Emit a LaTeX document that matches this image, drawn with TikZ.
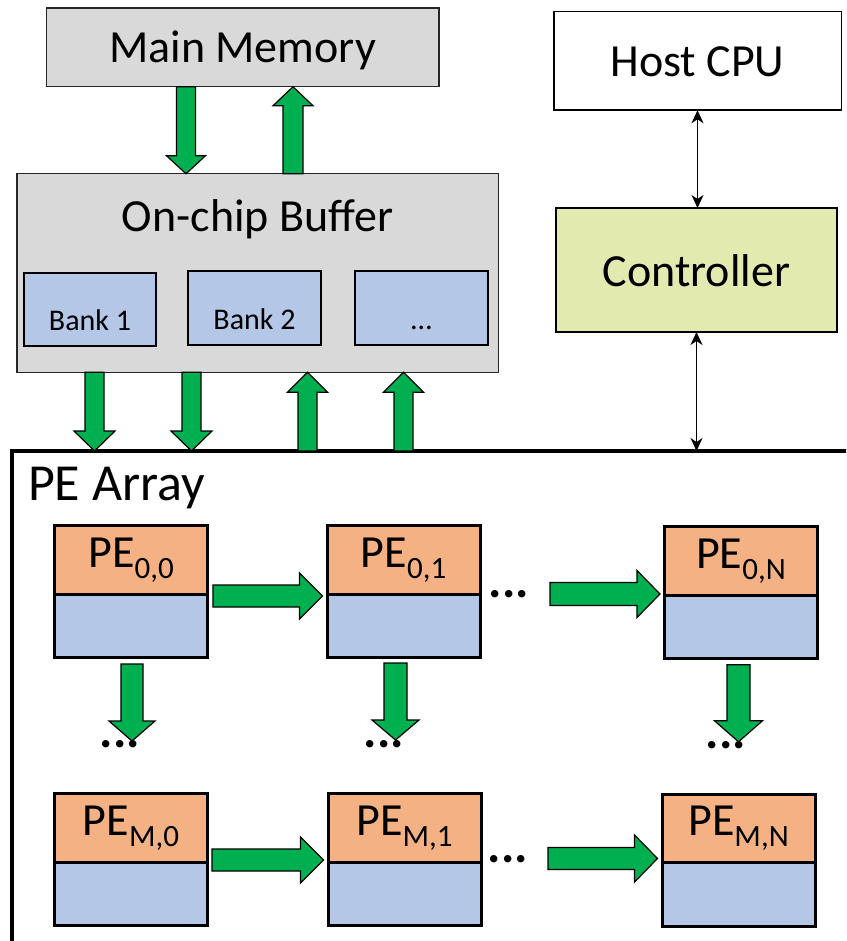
\documentclass[tikz,border=0pt]{standalone}
\usepackage{fontspec}
\setmainfont{Carlito}
\usetikzlibrary{calc,arrows.meta}

\definecolor{memgray}{RGB}{217,217,217}
\definecolor{bankblue}{RGB}{180,199,231}
\definecolor{peorange}{RGB}{244,177,131}
\definecolor{ctrlgreen}{RGB}{227,234,175}
\definecolor{flowgreen}{RGB}{0,176,80}

\newcommand\fsz[1]{\fontsize{#1}{#1}\selectfont}

% vertical block arrow: from, to, shaft half width, head half width, head length
\newcommand\flowV[5]{%
  \draw[flow] let \p1=(#1), \p2=(#2), \n1={ifthenelse(\y2>\y1,1,-1)},
      \n2={\y2-(\n1)*#5} in
    ({\x1-#3},\y1) -- ({\x1-#3},\n2) -- ({\x1-#4},\n2) -- (\x1,\y2)
    -- ({\x1+#4},\n2) -- ({\x1+#3},\n2) -- ({\x1+#3},\y1) -- cycle;}
% horizontal block arrow: from, to, shaft half width, head half width, head length
\newcommand\flowH[5]{%
  \draw[flow] let \p1=(#1), \p2=(#2), \n1={ifthenelse(\x2>\x1,1,-1)},
      \n2={\x2-(\n1)*#5} in
    (\x1,{\y1-#3}) -- (\n2,{\y1-#3}) -- (\n2,{\y1-#4}) -- (\x2,\y1)
    -- (\n2,{\y1+#4}) -- (\n2,{\y1+#3}) -- (\x1,{\y1+#3}) -- cycle;}

% processing element: name, x, y of the upper half, index
\newcommand\penode[4]{%
  \node[petop] (#1) at (#2,#3) {PE\raisebox{-11pt}{\fsz{31}#4}};
  \node[pebot, anchor=north] (#1b) at (#1.south) {};}

\tikzset{
  every node/.style={inner sep=0pt, outer sep=0pt},
  flow/.style={fill=flowgreen, draw=black, line width=1.2pt, line join=miter},
  memnode/.style={draw=black!85, fill=memgray, line width=1.5pt, font=\fsz{46},
    text height=31pt, text depth=0pt},
  banknode/.style={draw, fill=bankblue, line width=2pt, font=\fsz{30},
    text height=42pt, text depth=0pt},
  hostnode/.style={draw, fill=white, line width=1.5pt, font=\fsz{46},
    text height=32pt, text depth=0pt},
  ctrlnode/.style={draw, fill=ctrlgreen, line width=2pt, font=\fsz{46},
    text height=32pt, text depth=0pt},
  petop/.style={draw, fill=peorange, line width=3pt, minimum width=153pt,
    minimum height=68.5pt, font=\fsz{46}, text height=20pt, text depth=5.5pt},
  pebot/.style={draw, fill=bankblue, line width=3pt, minimum width=153pt,
    minimum height=63.5pt},
  arrayframe/.style={draw, line width=3.5pt},
  ctl/.style={line width=1.7pt,
    {Stealth[length=13pt,width=12pt,inset=4pt]}-{Stealth[length=13pt,width=12pt,inset=4pt]}},
  dotrow/.style={font=\bfseries\fsz{50}, anchor=base},
}

\begin{document}
\begin{tikzpicture}[x=1pt, y=-1pt]
\useasboundingbox[fill=white] (0,0) rectangle (846,941);
\clip (0,0) rectangle (846,941);

% memory hierarchy
\node[memnode, minimum width=392.5pt, minimum height=78.5pt] (mm) at (242.5,47.5) {Main Memory};
\node[memnode, minimum width=481.5pt, minimum height=198.5pt] (buf) at (257.5,273) {};
\node[anchor=base, font=\fsz{46}] (buflabel) at (257.5,232) {On-chip Buffer};
\node[banknode, minimum width=132pt, minimum height=73pt] (bank1) at (90,309.5) {Bank 1};
\node[banknode, minimum width=133pt, minimum height=74pt] (bank2) at (254.5,308) {Bank 2};
\node[banknode, minimum width=133pt, minimum height=74pt] (bank3) at (421.5,308) {…};

% host side
\node[hostnode, minimum width=287.5pt, minimum height=98.5pt] (host) at (697.5,61) {Host CPU};
\node[ctrlnode, minimum width=281pt, minimum height=124pt] (ctrl) at (696.5,270) {Controller};

% PE array frame (runs past the page edges)
\node[arrayframe, anchor=north west, minimum width=1000pt, minimum height=600pt] (pea) at (12,451) {};
\node[anchor=base west, font=\fsz{52}] (pealabel) at (28,500) {PE Array};

% memory <-> buffer
\coordinate (m1) at ($(mm.south west)+(139.75,0)$);
\coordinate (m2) at ($(mm.south west)+(246.75,0)$);
\flowV{m1}{m1 |- buf.north}{9.5pt}{19.5pt}{18pt}
\flowV{m2 |- buf.north}{m2}{10pt}{20pt}{19pt}

% buffer <-> PE array
\coordinate (b1) at ($(buf.south west)+(77.75,0)$);
\coordinate (b2) at ($(buf.south west)+(174.75,0)$);
\coordinate (b3) at ($(buf.south west)+(290.75,0)$);
\coordinate (b4) at ($(buf.south west)+(386.75,0)$);
\flowV{b1}{b1 |- pea.north}{9.5pt}{20.5pt}{20pt}
\flowV{b2}{b2 |- pea.north}{9.5pt}{20.5pt}{20pt}
\flowV{b3 |- pea.north}{b3}{9.5pt}{20pt}{20pt}
\flowV{b4 |- pea.north}{b4}{9.5pt}{20pt}{20pt}

% control links
\draw[ctl] (host.south) -- (host.south |- ctrl.north);
\draw[ctl] (ctrl.south) -- (ctrl.south |- pea.north);

% processing elements
\penode{pe00}{131}{559.75}{0,0}
\penode{pe01}{403.5}{559.75}{0,1}
\penode{pe0N}{741}{561}{0,N}
\penode{pem0}{131}{827.75}{M,0}
\penode{pem1}{404.5}{827.75}{M,1}
\penode{pemN}{738.5}{828.5}{M,N}

% row-wise data flow
\coordinate (h0s) at (550,594);
\coordinate (hms) at (548,858.5);
\flowH{$(pe00.south east)+(5.5,2)$}{$(pe01.south west)+(-4.5,2)$}{11pt}{23pt}{23pt}
\flowH{h0s}{$(pe0N.south west)+(-4.5,-2)$}{11.5pt}{23.5pt}{23pt}
\flowH{$(pem0.south east)+(4.5,-2)$}{$(pem1.south west)+(-4.5,-2)$}{11pt}{23pt}{23pt}
\flowH{hms}{$(pemN.south west)+(-4.5,-4)$}{11pt}{23.5pt}{23pt}
\node[dotrow] (hd0) at (509,597.5) {...};
\node[dotrow] (hdm) at (508,862.5) {...};

% column-wise data flow
\flowV{$(pe00b.south)+(1,6.5)$}{$(pe00b.south)+(1,83.5)$}{11pt}{23pt}{20pt}
\flowV{$(pe01b.south)+(-8,5.5)$}{$(pe01b.south)+(-8,82.5)$}{11.5pt}{23.5pt}{20pt}
\flowV{$(pe0Nb.south)+(-2.5,6)$}{$(pe0Nb.south)+(-2.5,83)$}{11.5pt}{24pt}{21pt}
\node[dotrow] (vd0) at (120,747.5) {...};
\node[dotrow] (vd1) at (384,747.5) {...};
\node[dotrow] (vdN) at (726,748.5) {...};
\end{tikzpicture}
\end{document}
